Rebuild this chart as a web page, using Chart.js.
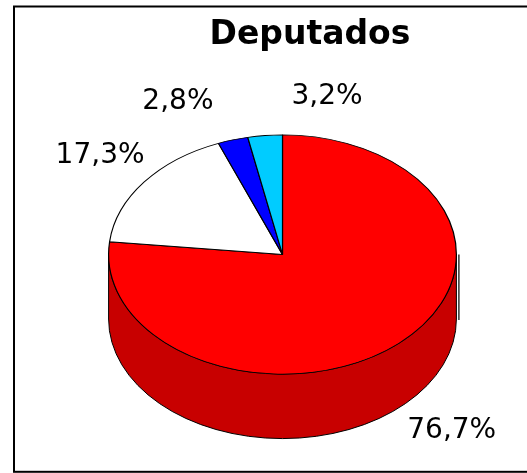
<!DOCTYPE html>
<html><head><meta charset="utf-8">
<script src="https://cdn.jsdelivr.net/npm/chart.js@4/dist/chart.umd.min.js"></script>
<style>html,body{margin:0;padding:0;background:#fff;overflow:hidden}</style>
</head><body>
<canvas id="c" width="527" height="473"></canvas>
<script>
// ---- data ----
const categories = ['Partido A', 'Partido B', 'Partido C', 'Partido D'];
const shares = [76.7, 17.3, 2.8, 3.2];
const chartTitle = 'Deputados';
const sliceColors = ['#FF0000', '#FFFFFF', '#0000FF', '#00CCFF'];

// ---- 3D look ----
const TILT = 120 / 174.5;   // vertical squash of the top face
const DEPTH = 64.5;         // thickness of the pie
const SIDE_SHADE = 0.784;

function darken(hex, f) {
  const n = parseInt(hex.slice(1), 16);
  const r = Math.round(((n >> 16) & 255) * f);
  const g = Math.round(((n >> 8) & 255) * f);
  const b = Math.round((n & 255) * f);
  return `rgb(${r},${g},${b})`;
}
function fmt(v) { return v.toFixed(1).replace('.', ',') + '%'; }

const pie3d = {
  id: 'pie3d',
  beforeDatasetsDraw(chart) {
    const ctx = chart.ctx;
    const arcs = chart.getDatasetMeta(0).data;
    const ds = chart.data.datasets[0];
    ctx.save();
    arcs.forEach((arc, i) => {
      const { x, y, startAngle, endAngle, outerRadius: r } =
        arc.getProps(['x', 'y', 'startAngle', 'endAngle', 'outerRadius'], true);
      const ry = r * TILT;
      [-2 * Math.PI, 0, 2 * Math.PI].forEach(off => {
        const a0 = Math.max(startAngle, off), a1 = Math.min(endAngle, off + Math.PI);
        if (a1 <= a0) return;
        ctx.beginPath();
        ctx.ellipse(x, y, r, ry, 0, a0, a1, false);
        ctx.ellipse(x, y + DEPTH, r, ry, 0, a1, a0, true);
        ctx.closePath();
        ctx.fillStyle = darken(ds.backgroundColor[i], SIDE_SHADE);
        ctx.fill();
        ctx.lineWidth = 1;
        ctx.strokeStyle = '#000';
        ctx.stroke();
      });
    });
    // faint shadow edge on the right side
    const a = arcs[0];
    ctx.beginPath();
    ctx.moveTo(a.x + a.outerRadius + 2.5, a.y);
    ctx.lineTo(a.x + a.outerRadius + 2.5, a.y + DEPTH + 1);
    ctx.lineWidth = 1.2;
    ctx.strokeStyle = '#000';
    ctx.stroke();
    ctx.restore();
    // squash the top face
    ctx.save();
    ctx.translate(a.x, a.y);
    ctx.scale(1, TILT);
    ctx.translate(-a.x, -a.y);
  },
  afterDatasetsDraw(chart) { chart.ctx.restore(); }
};

const labels3d = {
  id: 'labels3d',
  afterDraw(chart, args, opts) {
    const ctx = chart.ctx;
    const arcs = chart.getDatasetMeta(0).data;
    const vals = chart.data.datasets[0].data;
    ctx.save();
    ctx.fillStyle = '#000';
    ctx.textAlign = 'center';
    ctx.textBaseline = 'middle';
    ctx.font = '28px "DejaVu Sans"';
    arcs.forEach((arc, i) => {
      const mid = (arc.startAngle + arc.endAngle) / 2;
      const r = arc.outerRadius;
      let px = arc.x + r * Math.cos(mid);
      let py = arc.y + r * TILT * Math.sin(mid);
      if (Math.sin(mid) > 0) py += DEPTH;
      const n = opts.nudges[i];
      ctx.fillText(fmt(vals[i]), px + n[0], py + n[1]);
    });
    ctx.font = 'bold 33px "DejaVu Sans"';
    ctx.fillText(chartTitle, 310, 35.6);
    ctx.lineWidth = 2;
    ctx.strokeStyle = '#000';
    ctx.strokeRect(14, 6.5, 600, 465.3);
    ctx.restore();
  }
};

new Chart(document.getElementById('c'), {
  type: 'pie',
  data: {
    labels: categories,
    datasets: [{
      data: shares,
      backgroundColor: sliceColors,
      borderColor: '#000',
      borderWidth: 1.2,
      clip: false
    }]
  },
  options: {
    responsive: false,
    animation: false,
    events: [],
    rotation: 0,
    layout: { padding: { left: 108, right: 70, top: 79, bottom: 43 } },
    plugins: {
      legend: { display: false },
      tooltip: { enabled: false },
      title: { display: false },
      labels3d: { nudges: [[53, 23], [-44, -26], [-55, -38.5], [62, -39]] }
    }
  },
  plugins: [pie3d, labels3d]
});
</script>
</body></html>
